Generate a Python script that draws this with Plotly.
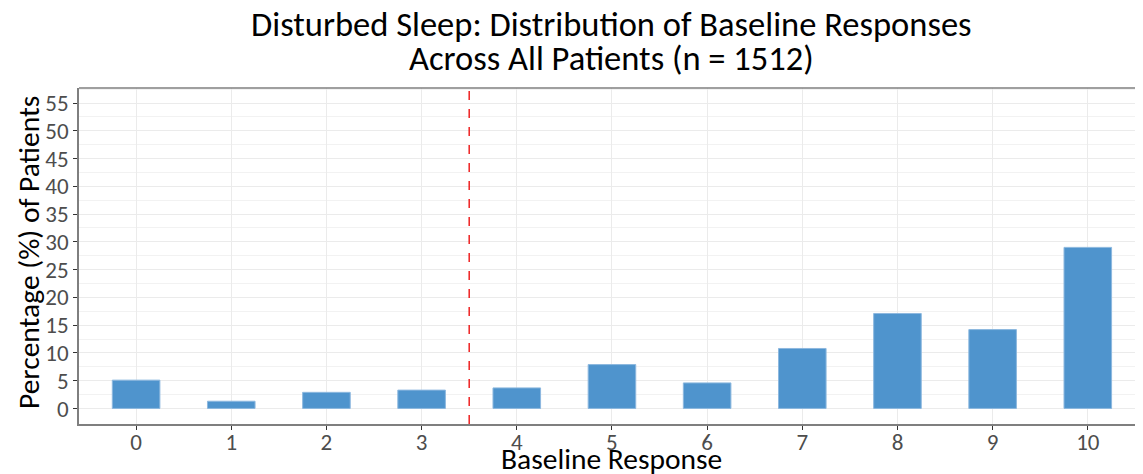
import plotly.graph_objects as go

categories = [0, 1, 2, 3, 4, 5, 6, 7, 8, 9, 10]
percentages = [5.1, 1.3, 2.9, 3.3, 3.7, 7.9, 4.6, 10.8, 17.1, 14.2, 29.0]
y_ticks = [0, 5, 10, 15, 20, 25, 30, 35, 40, 45, 50, 55]
cutoff = 3.5
title_lines = ["Disturbed Sleep: Distribution of Baseline Responses",
               "Across All Patients (n = 1512)"]
x_title = "Baseline Response"
y_title = "Percentage (%) of Patients"

FONT = "Carlito, Lato, 'Open Sans', sans-serif"

fig = go.Figure()
fig.add_trace(go.Bar(
    x=categories, y=percentages, width=0.5,
    marker=dict(color="#4F94CD", line=dict(color="#8db8df", width=1)),
    showlegend=False,
))

fig.add_shape(type="line", xref="x", yref="paper", x0=cutoff, x1=cutoff, y0=0, y1=1,
              line=dict(color="#ee2222", width=1.5, dash="dash"))
fig.add_shape(type="line", xref="paper", yref="paper", x0=0, x1=1, y0=1, y1=1,
              line=dict(color="#7f7f7f", width=1.5))

# titles as annotations for precise placement
fig.add_annotation(text=title_lines[0], xref="paper", yref="paper", x=0.5, y=1.19,
                   xanchor="center", yanchor="middle", showarrow=False,
                   font=dict(size=34.5, color="black", family=FONT))
fig.add_annotation(text=title_lines[1], xref="paper", yref="paper", x=0.5, y=1.089,
                   xanchor="center", yanchor="middle", showarrow=False,
                   font=dict(size=34.5, color="black", family=FONT))
fig.add_annotation(text=x_title, xref="paper", yref="paper", x=0.5, y=-0.105,
                   xanchor="center", yanchor="middle", showarrow=False,
                   font=dict(size=29.5, color="black", family=FONT))
fig.add_annotation(text=y_title, xref="paper", yref="paper", x=-0.047, y=0.512,
                   xanchor="center", yanchor="middle", showarrow=False, textangle=-90,
                   font=dict(size=29.5, color="black", family=FONT))

fig.update_layout(
    width=1135, height=466,
    margin=dict(l=71, r=0, t=80, b=50),
    paper_bgcolor="white", plot_bgcolor="white",
    font=dict(family=FONT),
    bargap=0.5,
)
fig.update_xaxes(
    range=[-0.6, 10.58], tickmode="array", tickvals=categories,
    ticktext=[str(c) for c in categories],
    showgrid=True, gridcolor="#ebebeb", gridwidth=1.2,
    showline=True, linecolor="#7f7f7f", linewidth=1.5,
    ticks="outside", ticklen=4, tickcolor="#333333",
    tickfont=dict(size=23, color="#4d4d4d"),
    ticklabelstandoff=-7,
    automargin=False, zeroline=False,
)
fig.update_yaxes(
    range=[-2.8, 57.7], tickmode="array", tickvals=y_ticks,
    showgrid=True, gridcolor="#ebebeb", gridwidth=1.2,
    minor=dict(tickmode="array", tickvals=[v + 2.5 for v in y_ticks], showgrid=True,
               gridcolor="#f2f2f2", gridwidth=0.8),
    showline=True, linecolor="#7f7f7f", linewidth=1.5,
    ticks="outside", ticklen=4, tickcolor="#333333",
    tickfont=dict(size=23, color="#4d4d4d"),
    automargin=False, zeroline=False,
)

fig.write_html("out.html")
